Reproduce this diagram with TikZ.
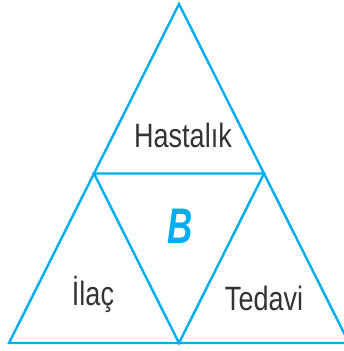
\documentclass[tikz,border=0pt]{standalone}
\usepackage{fontspec}
\setmainfont{Liberation Sans}
\definecolor{tri}{RGB}{0,174,239}
\definecolor{ink}{RGB}{51,51,51}
\begin{document}
\begin{tikzpicture}[x=1pt,y=1pt,
  edge/.style={draw=tri,line width=2.4pt,line join=miter},
  lbl/.style={text=ink,font=\fontsize{27}{30}\selectfont,inner sep=0pt,yscale=1.25},
  big/.style={text=tri,font=\fontsize{50}{54}\selectfont\bfseries\itshape,inner sep=0pt}]
\useasboundingbox (0,0) rectangle (343,351);
\coordinate (top) at (179,347);
\coordinate (bl) at (9,8);
\coordinate (br) at (349,8);
\coordinate (ml) at (94,177.5);
\coordinate (mr) at (264,177.5);
\coordinate (mb) at (179,8);
\draw[edge] (top) -- (br) -- (bl) -- cycle;
\draw[edge] (ml) -- (mr) -- (mb) -- cycle;
\node[lbl] (h) at (183,216) {Hastalık};
\node[big,xscale=0.7] (b) at (180,125) {B};
\node[lbl] (i) at (93,57) {İlaç};
\node[lbl] (t) at (264,53) {Tedavi};
\end{tikzpicture}
\end{document}
